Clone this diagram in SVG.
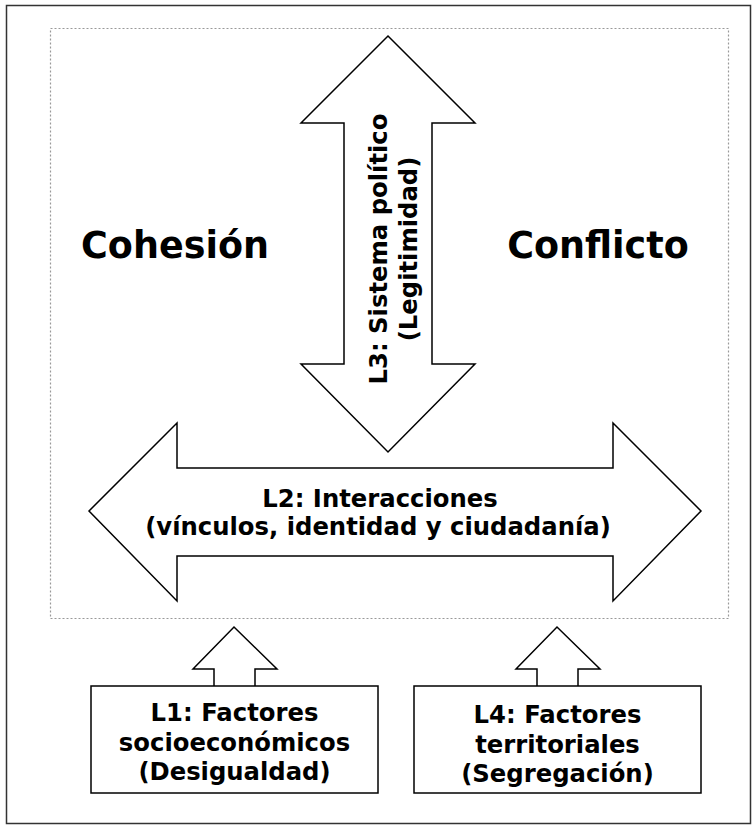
<svg xmlns="http://www.w3.org/2000/svg" width="756" height="826" viewBox="0 0 756 826">
<style>
.shape{fill:#fff;stroke:#000;stroke-width:1.5;stroke-linejoin:miter}
.t{font-family:"DejaVu Sans",sans-serif;font-weight:bold;font-size:24.3px;fill:#000;text-anchor:middle}
.big{font-size:36.5px}
</style>
<rect x="0" y="0" width="756" height="826" fill="#fff"/>
<rect x="6.5" y="5.5" width="744" height="818" fill="none" stroke="#333" stroke-width="1.5"/>
<rect x="50.5" y="28.5" width="678" height="590" fill="none" stroke="#999" stroke-width="1.2" stroke-dasharray="2,2"/>
<g id="cohesion"><text class="t big" x="175" y="258">Cohesión</text></g>
<g id="conflicto"><text class="t big" x="598" y="258">Conflicto</text></g>
<g id="connectors">
<g id="L3">
<polygon class="shape" points="388,36 475,123 432,123 432,364 475,364 388,452 301,364 344,364 344,123 301,123"/>
<text class="t" transform="translate(387,249) rotate(-90)"><tspan x="0" y="0">L3: Sistema político</tspan><tspan x="0" y="30">(Legitimidad)</tspan></text>
</g>
<g id="L2">
<polygon class="shape" points="89,511 177,423 177,468 613,468 613,423 701,511 613,601 613,556 177,556 177,601"/>
<text class="t" x="380" y="507">L2: Interacciones</text>
<text class="t" x="378" y="535">(vínculos, identidad y ciudadanía)</text>
</g>
<path class="shape" d="M214,686 L214,669 L193,669 L234,627 L277,669 L255,669 L255,686"/>
<path class="shape" d="M537,686 L537,669 L516,669 L557,627 L600,669 L578,669 L578,686"/>
</g>
<g id="L1">
<rect class="shape" x="91" y="686" width="287" height="107"/>
<text class="t" x="234.5" y="721">L1: Factores</text>
<text class="t" x="234.5" y="751">socioeconómicos</text>
<text class="t" x="234.5" y="780">(Desigualdad)</text>
</g>
<g id="L4">
<rect class="shape" x="414" y="686" width="287" height="107"/>
<text class="t" x="557.5" y="723">L4: Factores</text>
<text class="t" x="557.5" y="753">territoriales</text>
<text class="t" x="557.5" y="782">(Segregación)</text>
</g>
</svg>
